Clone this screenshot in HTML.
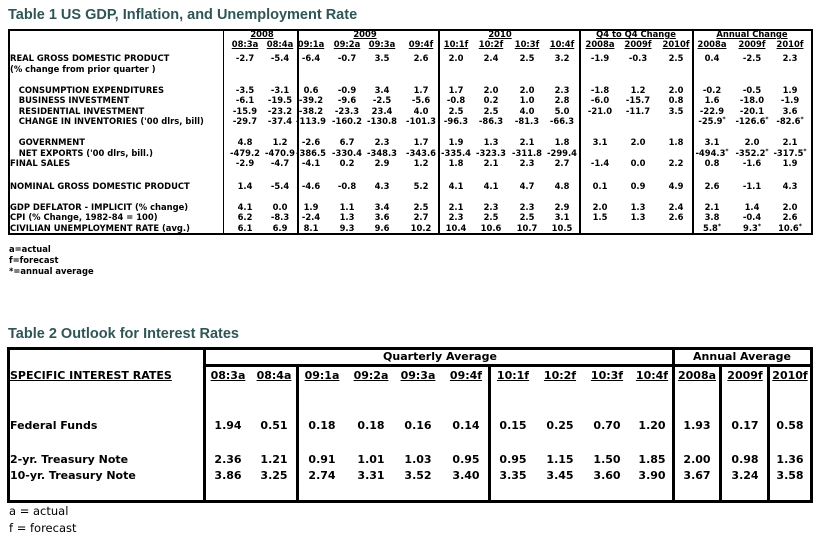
<!DOCTYPE html>
<html><head><meta charset="utf-8">
<style>
body{margin:0;background:#fff;width:819px;height:543px;overflow:hidden;position:relative;font-family:"DejaVu Sans","Liberation Sans",sans-serif;color:#000}
.a{position:absolute;white-space:nowrap}
.t1{font-size:8.4px;font-weight:bold;line-height:10px}
.t2{font-size:11px;font-weight:bold;line-height:13px}
.c{transform:translateX(-50%)}
.l{position:absolute;background:#000}
.title{font-family:"Liberation Sans",sans-serif;font-weight:bold;font-size:14.5px;color:#2f5556}
.st{font-size:6px;position:relative;top:-3px;line-height:0}
u{text-decoration:underline}
</style></head>
<body>
<div class="a title" style="left:8px;top:7px">Table 1 US GDP, Inflation, and Unemployment Rate</div>
<div class="a title" style="left:8px;top:326px">Table 2 Outlook for Interest Rates</div>
<div id="t1"></div>
<div id="t2"></div>
<div class="a t1" style="left:9px;top:244px">a=actual</div>
<div class="a t1" style="left:9px;top:255px">f=forecast</div>
<div class="a t1" style="left:9px;top:266px">*=annual average</div>
<div class="a" style="left:9px;top:504px;font-size:11.5px">a = actual</div>
<div class="a" style="left:9px;top:521px;font-size:11.5px">f = forecast</div>
<script>
// Table 1 data
const t1Cols = ["08:3a","08:4a","09:1a","09:2a","09:3a","09:4f","10:1f","10:2f","10:3f","10:4f","2008a","2009f","2010f","2008a","2009f","2010f"];
const t1Groups = ["2008","2009","2010","Q4 to Q4 Change","Annual Change"];
const t1Labels = ["REAL GROSS DOMESTIC PRODUCT","(% change from prior quarter )","  CONSUMPTION EXPENDITURES","  BUSINESS INVESTMENT","  RESIDENTIAL INVESTMENT","  CHANGE IN INVENTORIES ('00 dlrs, bill)","  GOVERNMENT","  NET EXPORTS ('00 dlrs, bill.)","FINAL SALES","NOMINAL GROSS DOMESTIC PRODUCT","GDP DEFLATOR - IMPLICIT (% change)","CPI (% Change, 1982-84 = 100)","CIVILIAN UNEMPLOYMENT RATE (avg.)"];
const t1Values = [
["-2.7","-5.4","-6.4","-0.7","3.5","2.6","2.0","2.4","2.5","3.2","-1.9","-0.3","2.5","0.4","-2.5","2.3"],
[],
["-3.5","-3.1","0.6","-0.9","3.4","1.7","1.7","2.0","2.0","2.3","-1.8","1.2","2.0","-0.2","-0.5","1.9"],
["-6.1","-19.5","-39.2","-9.6","-2.5","-5.6","-0.8","0.2","1.0","2.8","-6.0","-15.7","0.8","1.6","-18.0","-1.9"],
["-15.9","-23.2","-38.2","-23.3","23.4","4.0","2.5","2.5","4.0","5.0","-21.0","-11.7","3.5","-22.9","-20.1","3.6"],
["-29.7","-37.4","-113.9","-160.2","-130.8","-101.3","-96.3","-86.3","-81.3","-66.3","","","","-25.9*","-126.6*","-82.6*"],
["4.8","1.2","-2.6","6.7","2.3","1.7","1.9","1.3","2.1","1.8","3.1","2.0","1.8","3.1","2.0","2.1"],
["-479.2","-470.9","-386.5","-330.4","-348.3","-343.6","-335.4","-323.3","-311.8","-299.4","","","","-494.3*","-352.2*","-317.5*"],
["-2.9","-4.7","-4.1","0.2","2.9","1.2","1.8","2.1","2.3","2.7","-1.4","0.0","2.2","0.8","-1.6","1.9"],
["1.4","-5.4","-4.6","-0.8","4.3","5.2","4.1","4.1","4.7","4.8","0.1","0.9","4.9","2.6","-1.1","4.3"],
["4.1","0.0","1.9","1.1","3.4","2.5","2.1","2.3","2.3","2.9","2.0","1.3","2.4","2.1","1.4","2.0"],
["6.2","-8.3","-2.4","1.3","3.6","2.7","2.3","2.5","2.5","3.1","1.5","1.3","2.6","3.8","-0.4","2.6"],
["6.1","6.9","8.1","9.3","9.6","10.2","10.4","10.6","10.7","10.5","","","","5.8*","9.3*","10.6*"]];
// Table 2 data
const t2Cols = ["08:3a","08:4a","09:1a","09:2a","09:3a","09:4f","10:1f","10:2f","10:3f","10:4f","2008a","2009f","2010f"];
const t2Labels = ["Federal Funds","2-yr. Treasury Note","10-yr. Treasury Note"];
const t2Values = [
["1.94","0.51","0.18","0.18","0.16","0.14","0.15","0.25","0.70","1.20","1.93","0.17","0.58"],
["2.36","1.21","0.91","1.01","1.03","0.95","0.95","1.15","1.50","1.85","2.00","0.98","1.36"],
["3.86","3.25","2.74","3.31","3.52","3.40","3.35","3.45","3.60","3.90","3.67","3.24","3.58"]];

function line(p,x,y,w,h,name){const d=document.createElement('div');d.className='l';d.style.cssText=`left:${x}px;top:${y}px;width:${w}px;height:${h}px`;


p.appendChild(d);}
function txt(p,cls,x,y,s,name,center){const d=document.createElement('div');d.className='a '+cls+(center?' c':'');d.style.left=x+'px';d.style.top=y+'px';d.innerHTML=s;


p.appendChild(d);}

// Table 1 layout
const T1=document.getElementById('t1');
const c1=[245,280,311,347,382,421,456,491,527,562,600,638,676,712,752,790];
const g1=[262,365,500,636,752];
const r1=[53,64,85,95,106,116,137,148,158,181,202,212,223];
line(T1,8,29,805,2,'t1-border-top');line(T1,8,233,805,2,'t1-border-bottom');
line(T1,8,29,2,206,'t1-border-left');line(T1,811,29,2,206,'t1-border-right');
[[223,1],[297,2],[438,2],[579,2],[692,2]].forEach((v,i)=>line(T1,v[0],29,v[1],206,'t1-divider-'+i));
t1Groups.forEach((g,i)=>txt(T1,'t1',g1[i],29,'<u>'+g+'</u>','t1-group-'+i,true));
t1Cols.forEach((c,i)=>txt(T1,'t1',c1[i],39,'<u>'+c+'</u>','t1-col-'+c,true));
t1Labels.forEach((l,i)=>{txt(T1,'t1',10,r1[i],l.replace(/^  /,'&nbsp;&nbsp;&nbsp;'),'t1-label-'+i,false);
 (t1Values[i]||[]).forEach((v,j)=>{if(v!=='')txt(T1,'t1',c1[j],r1[i],v.replace('*','<span class="st">*</span>'),'t1-cell-'+i+'-'+j,true);});});

// Table 2 layout
const T2=document.getElementById('t2');
const c2=[228,274,322,371,418,466,513,560,607,652,697,745,790];
const r2=[419,453,469];
line(T2,7,347,806,3,'t2-border-top');line(T2,7,500,806,3,'t2-border-bottom');
line(T2,7,347,3,156,'t2-border-left');line(T2,810,347,3,156,'t2-border-right');
line(T2,203,347,3,156,'t2-divider-label');
line(T2,203,364,610,3,'t2-header-rule');
[[296,364],[488,364],[672,347],[719,364],[767,364]].forEach((v,i)=>line(T2,v[0],v[1],3,503-v[1],'t2-divider-'+i));
txt(T2,'t2',440,350,'Quarterly Average','t2-group-quarterly',true);
txt(T2,'t2',742,350,'Annual Average','t2-group-annual',true);
txt(T2,'t2',10,369,'<u>SPECIFIC INTEREST RATES</u>','t2-header-label',false);
t2Cols.forEach((c,i)=>txt(T2,'t2',c2[i],369,'<u>'+c+'</u>','t2-col-'+c,true));
t2Labels.forEach((l,i)=>{txt(T2,'t2',10,r2[i],l,'t2-label-'+i,false);
 t2Values[i].forEach((v,j)=>txt(T2,'t2',c2[j],r2[i],v,'t2-cell-'+i+'-'+j,true));});
</script>
</body></html>
